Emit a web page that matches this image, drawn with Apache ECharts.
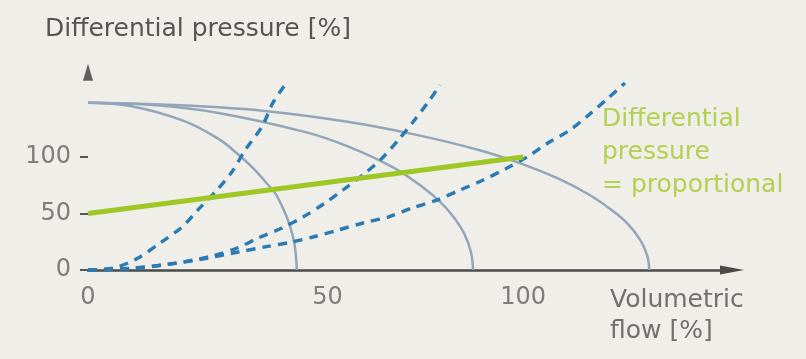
<!DOCTYPE html>
<html>
<head>
<meta charset="utf-8">
<script src="https://cdn.jsdelivr.net/npm/echarts@6/dist/echarts.min.js"></script>
<style>
  html, body { margin: 0; padding: 0; background: #efeee9; }
  #chart { width: 806px; height: 359px; }
</style>
</head>
<body>
<div id="chart"></div>
<script>
// tick labels
const xTicks = [0, 50, 100];
const yTicks = [0, 50, 100];

// pump curves (flow %, pressure %)
const pumpCurveA = [[0, 148], [10, 145], [22, 132], [30, 116], [34, 104], [38, 90], [41, 77], [43, 68], [45, 53], [46.5, 38], [47.5, 22], [48, 0]];
const pumpCurveB = [[0, 148], [15, 146], [30, 139], [50, 122], [60, 109], [70, 91], [77, 73], [81, 60], [84, 47], [86.5, 32], [88, 16], [88.5, 0]];
const pumpCurveC = [[0, 148], [20, 146], [40, 141], [60, 131], [75, 120], [90, 106], [100, 93.5], [108, 81], [115, 67], [120, 54], [124, 41], [127, 26], [128.5, 13], [129, 0]];

// system curves (dashed)
const systemCurveA = [[0, 0], [6, 1.8], [11.5, 10.6], [16.6, 23.9], [21.6, 38], [25.7, 55], [29.7, 71], [33.1, 87], [36.1, 106], [40, 127], [42.5, 148], [45.3, 164]];
const systemCurveB = [[0, 0], [10, 1.5], [20, 6], [28.5, 12.4], [34.3, 19.5], [39.1, 28.3], [44.6, 37.2], [49.4, 46.9], [54.5, 59.3], [58.6, 70.8], [63.7, 85.8], [67.6, 99], [71.3, 115], [74.7, 131], [78.2, 148.7], [80.9, 163.7]];
const systemCurveC = [[0, 0], [10, 1.3], [17.2, 4.4], [26, 9.5], [34.5, 15.9], [40.7, 20.4], [46.9, 24.8], [51.7, 29.2], [57.5, 35.4], [63.2, 41.6], [69, 46.9], [74.5, 54.9], [80.2, 61.9], [85.5, 70.8], [90.8, 79.6], [95.9, 89.4], [100.9, 100], [105.7, 112.4], [110.8, 123.9], [115, 137], [119.5, 152], [123.4, 165.5]];

// proportional pressure control line
const proportionalLine = [[0, 50], [100, 100]];

// where the y axis arrow head sits
const yArrowAt = [[0, 175]];

const font = 'DejaVu Sans';
const chart = echarts.init(document.getElementById('chart'));

const solid = { color: '#93a6b9', width: 2.5 };
const dashed = { color: '#2c7ab2', width: 3.4, type: [9, 7] };

chart.setOption({
  backgroundColor: '#efeee9',
  animation: false,
  grid: { left: 88, right: 74, top: 66.6, bottom: 89 },
  xAxis: {
    type: 'value',
    min: 0,
    max: 148,
    splitLine: { show: false },
    axisLine: {
      show: true,
      symbol: ['none', 'triangle'],
      symbolSize: [9, 24],
      lineStyle: { color: '#4a4a4a', width: 2.5 }
    },
    axisTick: { show: false },
    axisLabel: {
      customValues: xTicks,
      margin: 16,
      color: '#7d7d7d',
      fontFamily: font,
      fontSize: 24,
      formatter: function (v) {
        return v === 50 ? '{s|50}' : String(v);
      },
      rich: {
        s: { padding: [0, 0, 0, 44], color: '#7d7d7d', fontFamily: font, fontSize: 24 }
      }
    }
  },
  yAxis: {
    type: 'value',
    min: 0,
    max: 180,
    splitLine: { show: false },
    axisLine: { show: false },
    axisTick: {
      show: true,
      customValues: yTicks,
      length: 8,
      lineStyle: { color: '#555', width: 2 }
    },
    axisLabel: {
      customValues: yTicks,
      margin: 17,
      color: '#7d7d7d',
      fontFamily: font,
      fontSize: 24
    }
  },
  series: [
    { type: 'line', data: pumpCurveA, smooth: 0.4, showSymbol: false, lineStyle: solid },
    { type: 'line', data: pumpCurveB, smooth: 0.4, showSymbol: false, lineStyle: solid },
    { type: 'line', data: pumpCurveC, smooth: 0.4, showSymbol: false, lineStyle: solid },
    { type: 'line', data: systemCurveA, smooth: 0.3, showSymbol: false, lineStyle: dashed },
    { type: 'line', data: systemCurveB, smooth: 0.3, showSymbol: false, lineStyle: dashed },
    { type: 'line', data: systemCurveC, smooth: 0.3, showSymbol: false, lineStyle: dashed },
    { type: 'line', data: proportionalLine, showSymbol: false, lineStyle: { color: '#9cc724', width: 5 } },
    {
      type: 'scatter',
      data: yArrowAt,
      symbol: 'triangle',
      symbolSize: [10, 17],
      silent: true,
      itemStyle: { color: '#3c3c3c' }
    }
  ],
  graphic: [
    {
      type: 'text',
      left: 45,
      top: 17,
      style: { text: 'Differential pressure [%]', fill: '#555555', font: '25px "DejaVu Sans"' }
    },
    {
      type: 'text',
      left: 610,
      top: 285,
      style: { text: 'Volumetric\nflow [%]', fill: '#707070', font: '25px "DejaVu Sans"', lineHeight: 31 }
    },
    {
      type: 'text',
      left: 602,
      top: 103,
      style: { text: 'Differential\npressure\n= proportional', fill: '#b2d150', font: '25px "DejaVu Sans"', lineHeight: 33 }
    }
  ]
});
</script>
</body>
</html>
